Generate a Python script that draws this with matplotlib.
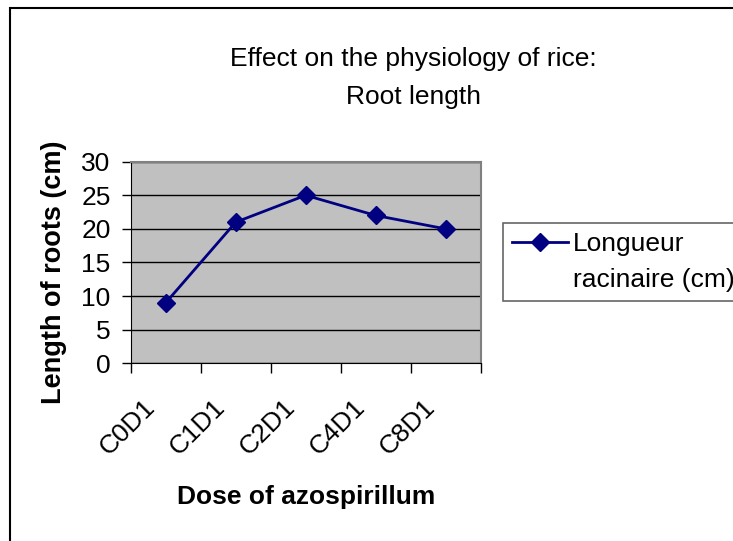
import matplotlib.pyplot as plt
import matplotlib.transforms as mtransforms
from matplotlib.lines import Line2D
from matplotlib.patches import Rectangle

plt.rcParams['font.family'] = ['Liberation Sans', 'DejaVu Sans']

# ===== DATA =====
doses = ["C0D1", "C1D1", "C2D1", "C4D1", "C8D1"]
root_length = [9, 21, 25, 22, 20]
y_ticks = [0, 5, 10, 15, 20, 25, 30]
legend_lines = ["Longueur", "racinaire (cm)"]

W, H = 733, 541
fig = plt.figure(figsize=(W / 100, H / 100), dpi=100)

# chart area border (Excel style, cropped on right and bottom)
fig.patches.append(Rectangle((9.5 / W, -0.1), 1.2, 1 - 7.5 / H + 0.1,
                             transform=fig.transFigure, fill=False,
                             edgecolor='black', linewidth=1.5))

ax = fig.add_axes([130.7 / W, 1 - 363.3 / H, 350 / W, 201.6 / H])
ax.set_facecolor('#C0C0C0')

x = list(range(len(doses)))
line, = ax.plot(x, root_length, color='#000080', linewidth=2, marker='D',
                markersize=9, zorder=3)

ax.set_xlim(-0.5, len(doses) - 0.5)
ax.set_ylim(0, 30)
ax.set_yticks(y_ticks)
ax.yaxis.grid(True, color='black', linewidth=1)
ax.set_axisbelow(True)

# ticks between categories, labels at category centers
ax.set_xticks([i - 0.5 for i in range(len(doses) + 1)])
ax.set_xticklabels([])
ax.set_xticks(x, minor=True)
ax.set_xticklabels(doses, minor=True, rotation=45, ha='right', va='center',
                   rotation_mode='anchor', fontsize=19)
ax.tick_params(axis='x', which='minor', length=0, pad=29)
ax.tick_params(axis='x', which='major', length=7, direction='out', width=1)
ax.tick_params(axis='y', length=6.5, direction='out', width=1, labelsize=19, pad=8)

# nudge the slanted labels left, like Excel
shift = mtransforms.ScaledTranslation(-14 / 100, 0, fig.dpi_scale_trans)
for tick in ax.xaxis.get_minor_ticks():
    tick.label1.set_transform(tick.label1.get_transform() + shift)

for side in ['top', 'right']:
    ax.spines[side].set_color('#808080')
    ax.spines[side].set_linewidth(1.5)
for side in ['left', 'bottom']:
    ax.spines[side].set_color('black')

ax.set_xlabel("Dose of azospirillum", fontsize=19, fontweight='bold', labelpad=18)
ax.set_ylabel("Length of roots (cm)", fontsize=19.5, fontweight='bold')
ax.yaxis.set_label_coords((67 - 130.7) / 350, (363.3 - 272) / 201.6)

fig.text(413 / W, 1 - 78 / H, "Effect on the physiology of rice:\nRoot length",
         ha='center', va='center', fontsize=19, linespacing=1.7)

# Excel wraps the series name: handle sits on the first line only
blank = Line2D([], [], linestyle='none')
leg = ax.legend([line, blank], legend_lines, loc='upper left',
                bbox_to_anchor=(503 / W, 1 - 223 / H),
                bbox_transform=fig.transFigure, fontsize=19, frameon=True,
                fancybox=False, edgecolor='#404040', borderpad=0.35,
                handlelength=2.1, handletextpad=0.2, borderaxespad=0,
                labelspacing=0.45)
leg.get_frame().set_linewidth(1.2)

fig.savefig("out.png", dpi=100)
